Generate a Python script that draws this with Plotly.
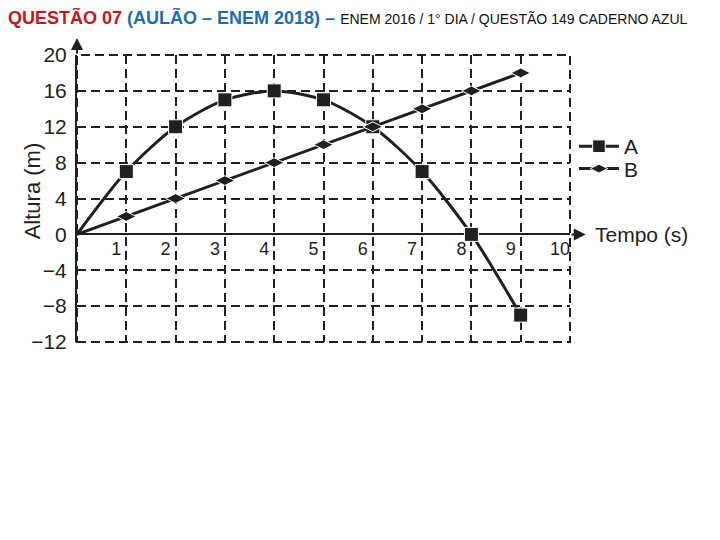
import plotly.graph_objects as go

tempo = [0, 1, 2, 3, 4, 5, 6, 7, 8, 9]
altura_a = [0, 7, 12, 15, 16, 15, 12, 7, 0, -9]
altura_b = [0, 2, 4, 6, 8, 10, 12, 14, 16, 18]
x_ticks = [1, 2, 3, 4, 5, 6, 7, 8, 9, 10]
y_ticks = [-12, -8, -4, 0, 4, 8, 12, 16, 20]
y_labels = ["−12", "−8", "−4", "0", "4", "8", "12", "16", "20"]

ink = "#231f20"
font_family = "Liberation Sans, Arial, sans-serif"

# no marker drawn at the origin
size_a = [0] + [14] * (len(tempo) - 1)
size_b = [0] + [14] * (len(tempo) - 1)

fig = go.Figure()
fig.add_trace(go.Scatter(
    x=tempo, y=altura_a, name="A", mode="lines+markers", legend="legend",
    line=dict(color=ink, width=3, shape="spline", smoothing=0.8),
    marker=dict(symbol="square", size=size_a, color=ink, opacity=1),
    cliponaxis=False,
))
fig.add_trace(go.Scatter(
    x=tempo, y=altura_b, name="B", mode="lines+markers", legend="legend2",
    line=dict(color=ink, width=3),
    marker=dict(symbol="diamond-wide", size=size_b, color=ink, opacity=1),
    cliponaxis=False,
))

legend_common = dict(
    xanchor="left", yanchor="middle",
    font=dict(size=21, color=ink), bgcolor="rgba(0,0,0,0)",
    itemwidth=40, borderwidth=0,
)

fig.update_layout(
    width=720, height=540,
    paper_bgcolor="white", plot_bgcolor="white",
    margin=dict(l=69, r=158, t=47, b=206),
    font=dict(family=font_family, color=ink, size=18),
    title=dict(
        text=("<b><span style='color:#c8141e'>QUESTÃO 07</span> "
              "<span style='color:#1f6db0'>(AULÃO – ENEM 2018) –</span></b> "
              "<span style='font-size:14px;color:#111'>ENEM 2016 / 1° DIA / QUESTÃO 149 CADERNO AZUL</span>"),
        xref="container", yref="container", x=0, y=1 - 10 / 540,
        xanchor="left", yanchor="middle",
        font=dict(family=font_family, size=18),
    ),
    showlegend=True,
    legend=dict(x=1.008, y=0.681, **legend_common),
    legend2=dict(x=1.008, y=0.603, **legend_common),
    xaxis=dict(
        range=[0, 10], tickvals=x_ticks, ticktext=[str(v) for v in x_ticks],
        anchor="free", position=12 / 32,
        showgrid=True, gridcolor=ink, gridwidth=2, griddash="9px,5px",
        zeroline=False, showline=False, ticks="",
        ticklabelshift=-10, ticklabelstandoff=2,
        tickfont=dict(size=18, color=ink),
        fixedrange=True,
    ),
    yaxis=dict(
        range=[-12, 20], tickvals=y_ticks, ticktext=y_labels,
        showgrid=True, gridcolor=ink, gridwidth=2, griddash="9px,5px",
        zeroline=True, zerolinecolor=ink, zerolinewidth=2,
        showline=True, linecolor=ink, linewidth=2, ticks="",
        ticklabelstandoff=4,
        tickfont=dict(size=21, color=ink),
        fixedrange=True,
    ),
    shapes=[
        dict(type="rect", xref="paper", yref="paper", x0=0, x1=1, y0=0, y1=1,
             line=dict(color=ink, width=2, dash="9px,5px"), layer="below"),
    ],
    annotations=[
        dict(x=10.32, y=0, ax=10, ay=0, xref="x", yref="y", axref="x", ayref="y",
             showarrow=True, arrowhead=2, arrowsize=1.2, arrowwidth=2, arrowcolor=ink, text=""),
        dict(x=0, y=21.9, ax=0, ay=20, xref="x", yref="y", axref="x", ayref="y",
             showarrow=True, arrowhead=2, arrowsize=1.2, arrowwidth=2, arrowcolor=ink, text=""),
        dict(x=1 + 23 / 493, y=0, xref="paper", yref="y", text="Tempo (s)", showarrow=False,
             xanchor="left", yanchor="middle", font=dict(size=21, color=ink)),
        dict(x=-45 / 493, y=4.8, xref="paper", yref="y", text="Altura (m)", showarrow=False,
             textangle=-90, xanchor="center", yanchor="middle", font=dict(size=22, color=ink)),
    ],
)

fig.write_html("out.html")
